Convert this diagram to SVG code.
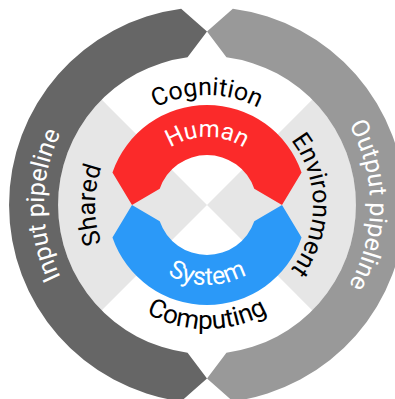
<svg xmlns="http://www.w3.org/2000/svg" width="395" height="399" viewBox="0 0 395 399">
  <style>
    .lbl { font-family: Roboto, "Liberation Sans", sans-serif; font-size: 25px; }
    .dark { fill: #000000; }
    .light { fill: #ffffff; }
    .wedge { fill: #e6e6e6; }
  </style>
  <defs>
    <path id="p-cognition" d="M 97,205 A 110 110 0 0 1 317,205"/>
    <path id="p-human" d="M 139,205 A 68 68 0 0 1 275,205"/>
    <path id="p-computing" d="M 83,205 A 124 124 0 0 0 331,205"/>
    <path id="p-system" d="M 127,205 A 80 80 0 0 0 287,205"/>
    <path id="p-shared" d="M 207,317 A 112 112 0 0 1 207,93"/>
    <path id="p-environment" d="M 207,99 A 106 106 0 0 1 207,311"/>
    <path id="p-input" d="M 207,368 A 163 163 0 0 1 207,42"/>
    <path id="p-output" d="M 207,42 A 163 163 0 0 1 207,368"/>
  </defs>
  <rect width="395" height="399" fill="#ffffff"/>

  <g id="background">
    <path class="wedge" d="M 207,205 L 101.6,99.6 A 149 149 0 0 0 101.6,310.4 Z"/>
    <path class="wedge" d="M 207,205 L 312.4,99.6 A 149 149 0 0 1 312.4,310.4 Z"/>
  </g>

  <g id="input-pipeline">
    <path fill="#666666" d="M 181.16,8.7 L 207,31.5 L 187.56,57.28 A 149 149 0 0 0 187.56,352.72 L 207,378.5 L 181.16,401.3 A 198 198 0 0 1 181.16,8.7 Z"/>
    <text class="lbl light"><textPath href="#p-input" startOffset="50%" text-anchor="middle">Input pipeline</textPath></text>
  </g>

  <g id="output-pipeline">
    <path fill="#999999" d="M 232.84,8.7 L 207,31.5 L 226.44,57.28 A 149 149 0 0 1 226.44,352.72 L 207,378.5 L 232.84,401.3 A 198 198 0 0 0 232.84,8.7 Z"/>
    <text class="lbl light"><textPath href="#p-output" startOffset="50%" text-anchor="middle">Output pipeline</textPath></text>
  </g>

  <g id="human">
    <path fill="#fb2a2a" d="M 112.45,172.44 A 100 100 0 0 1 301.55,172.44 L 282,205 L 254.27,188.72 A 50 50 0 0 0 159.73,188.72 L 132,205 Z"/>
    <text class="lbl light" style="font-size:24px"><textPath href="#p-human" startOffset="50%" text-anchor="middle">Human</textPath></text>
  </g>

  <g id="system">
    <path fill="#2b99f8" d="M 112.45,237.56 A 100 100 0 0 0 301.55,237.56 L 282,205 L 254.27,221.28 A 50 50 0 0 1 159.73,221.28 L 132,205 Z"/>
    <text class="lbl light" style="font-size:25px"><textPath href="#p-system" startOffset="50%" text-anchor="middle">System</textPath></text>
  </g>

  <g id="cognition">
    <text class="lbl dark"><textPath href="#p-cognition" startOffset="50%" text-anchor="middle">Cognition</textPath></text>
  </g>
  <g id="computing">
    <text class="lbl dark" style="font-size:26px"><textPath href="#p-computing" startOffset="50%" text-anchor="middle">Computing</textPath></text>
  </g>
  <g id="shared">
    <text class="lbl dark"><textPath href="#p-shared" startOffset="50%" text-anchor="middle">Shared</textPath></text>
  </g>
  <g id="environment">
    <text class="lbl dark"><textPath href="#p-environment" startOffset="50%" text-anchor="middle">Environment</textPath></text>
  </g>

  <g id="connectors"/>
</svg>
